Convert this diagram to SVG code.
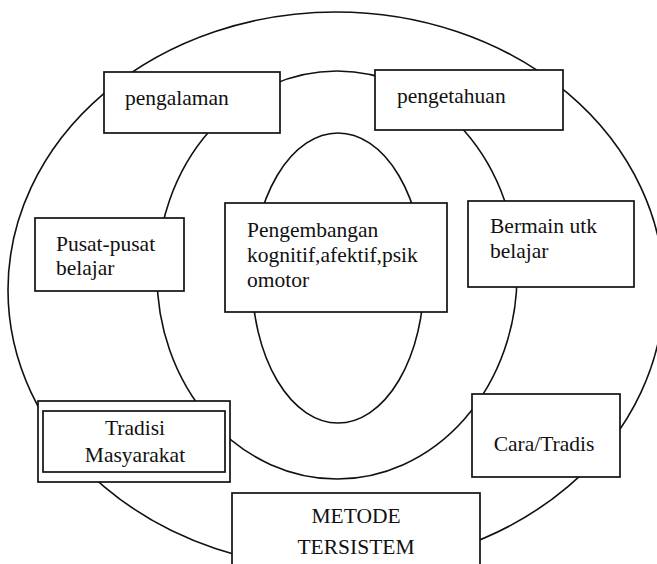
<svg xmlns="http://www.w3.org/2000/svg" width="657" height="564" viewBox="0 0 657 564">
<style>
.ring{fill:none;stroke:#111;stroke-width:1.6}
.box{fill:#fff;stroke:#111;stroke-width:1.7}
.t{font-family:"Liberation Serif","Times New Roman",serif;font-size:21.5px;fill:#111}
.c{text-anchor:middle}
</style>
<rect width="657" height="564" fill="#fff"/>
<g id="rings">
<ellipse class="ring" cx="336" cy="290" rx="328" ry="278"/>
<ellipse class="ring" cx="337" cy="275" rx="180" ry="204"/>
<ellipse class="ring" cx="338" cy="278" rx="86" ry="145"/>
</g>
<g id="pengalaman">
<rect class="box" x="104" y="72" width="176" height="61"/>
<text class="t" x="125" y="105">pengalaman</text>
</g>
<g id="pengetahuan">
<rect class="box" x="375" y="70" width="188" height="60"/>
<text class="t" x="397" y="103">pengetahuan</text>
</g>
<g id="pusat">
<rect class="box" x="35" y="218" width="149" height="73"/>
<text class="t" x="56" y="251">Pusat-pusat</text>
<text class="t" x="56" y="275">belajar</text>
</g>
<g id="pengembangan">
<rect class="box" x="225" y="203" width="222" height="109"/>
<text class="t" x="247" y="237">Pengembangan</text>
<text class="t" x="247" y="262">kognitif,afektif,psik</text>
<text class="t" x="247" y="287">omotor</text>
</g>
<g id="bermain">
<rect class="box" x="468" y="201" width="166" height="86"/>
<text class="t" x="490" y="233">Bermain utk</text>
<text class="t" x="490" y="258">belajar</text>
</g>
<g id="tradisi">
<rect class="box" x="38" y="401" width="192" height="81"/>
<rect class="box" x="43" y="411" width="182" height="61"/>
<text class="t c" x="135" y="435">Tradisi</text>
<text class="t c" x="135" y="462">Masyarakat</text>
</g>
<g id="cara">
<rect class="box" x="472" y="394" width="148" height="83"/>
<text class="t c" x="544" y="451">Cara/Tradis</text>
</g>
<g id="metode">
<rect class="box" x="232" y="493" width="248" height="80"/>
<text class="t c" x="356" y="523">METODE</text>
<text class="t c" x="356" y="554">TERSISTEM</text>
</g>
</svg>
